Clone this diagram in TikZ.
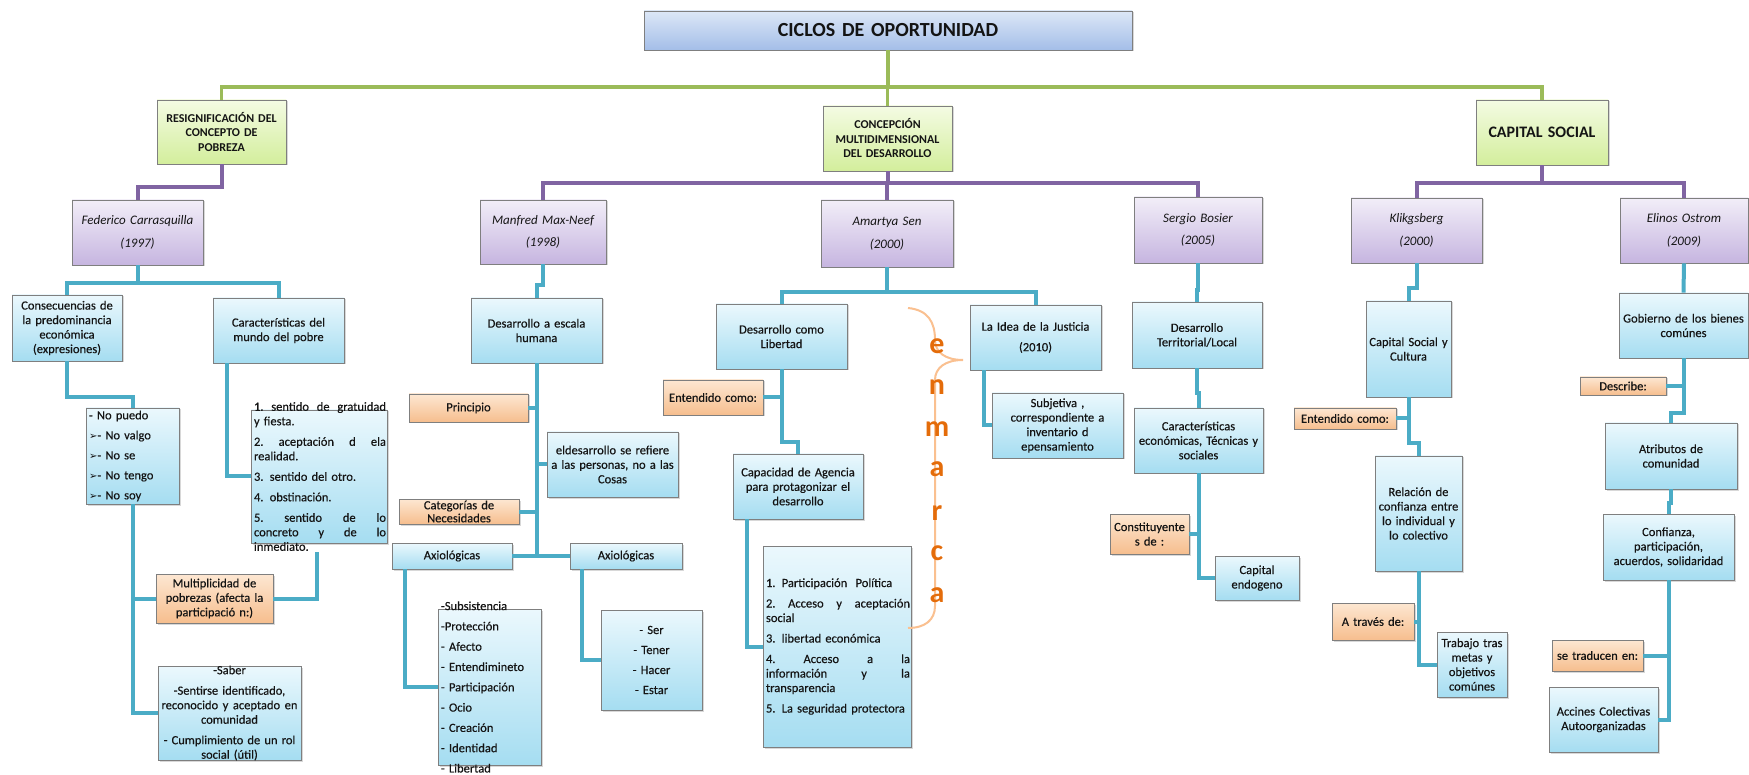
\documentclass[tikz,border=0pt]{standalone}
\usepackage{fontspec}
\setmainfont{Carlito}
\newfontfamily\bxfont{Carlito}[FakeBold=0.35]
\newfontfamily\dejavu{DejaVu Sans}
\usetikzlibrary{shadows}
\definecolor{lgreen}{HTML}{9BBB59}
\definecolor{lpurple}{HTML}{8064A2}
\definecolor{lteal}{HTML}{4BACC6}
\definecolor{ttop}{HTML}{DCE7F7}
\definecolor{tbot}{HTML}{A4BEE8}
\definecolor{gtop}{HTML}{F4FBE3}
\definecolor{gbot}{HTML}{D3EE9C}
\definecolor{ptop}{HTML}{F2EEF8}
\definecolor{pbot}{HTML}{C6B5E0}
\definecolor{ctop}{HTML}{EBF8FD}
\definecolor{cbot}{HTML}{A5DDF1}
\definecolor{otop}{HTML}{FDE7D2}
\definecolor{obot}{HTML}{F6BE8E}
\definecolor{boxborder}{HTML}{7F7F7F}
\definecolor{txtc}{HTML}{141414}
\definecolor{orange1}{HTML}{E46C0A}
\definecolor{bracec}{HTML}{FAC090}
\newcommand\bx[8]{%
  \pgfmathsetmacro\bxw{#6-#4}%
  \pgfmathsetmacro\bxh{#7-#5}%
  \pgfmathsetmacro\bxx{(#4+#6)/2}%
  \pgfmathsetmacro\bxy{(#5+#7)/2}%
  \pgfmathsetmacro\bxt{#6-#4-6}%
  \node[#2, minimum width=\bxw pt, minimum height=\bxh pt] (#1) at (\bxx,\bxy) {};
  \node[txt, text width=\bxt pt, #3] (#1t) at (#1.center) {#8};
}
\newcommand\jl[2]{\leavevmode\hbox to #1pt{#2}}
\newcommand\arr{{\fontsize{10}{10}\dejavu ➢}}
\begin{document}
\begin{tikzpicture}[x=1pt,y=-1pt,
  bxbase/.style={draw=boxborder, line width=0.7pt, inner sep=0pt,
     drop shadow={shadow xshift=1.5pt,shadow yshift=-1.5pt,opacity=0.3}},
  tbox/.style={bxbase, top color=ttop, bottom color=tbot},
  gbox/.style={bxbase, top color=gtop, bottom color=gbot},
  pbox/.style={bxbase, top color=ptop, bottom color=pbot},
  cbox/.style={bxbase, top color=ctop, bottom color=cbot},
  obox/.style={bxbase, top color=otop, bottom color=obot},
  txt/.style={inner sep=0pt, align=center, text=txtc, font=\bxfont\fontsize{12.5}{14.5}\selectfont},
  ptxt/.style={font=\fontsize{13}{14.5}\selectfont\itshape},
  gtxt/.style={font=\fontsize{12}{14.5}\selectfont\bfseries},
  gl/.style={draw=lgreen, line width=3.5pt},
  pl/.style={draw=lpurple, line width=4pt},
  tl/.style={draw=lteal, line width=4pt},
  enm/.style={text=orange1, font=\fontsize{30}{30}\selectfont\bfseries, inner sep=0pt}
]
\useasboundingbox (0,0) rectangle (1749,775);
\fill[white] (0,0) rectangle (1749,775);

% ---- boxes ----
\bx{title}{tbox}{font=\fontsize{20}{24}\selectfont\bfseries}{644}{11}{1132}{50}{CICLOS DE OPORTUNIDAD}
\bx{g1}{gbox}{gtxt}{157}{100}{286}{164}{RESIGNIFICACIÓN DEL\\CONCEPTO DE\\POBREZA}
\bx{g2}{gbox}{gtxt}{823}{106}{952}{171}{CONCEPCIÓN\\MULTIDIMENSIONAL\\DEL DESARROLLO}
\bx{g3}{gbox}{font=\fontsize{16}{19}\selectfont\bfseries}{1476}{100}{1608}{165}{CAPITAL SOCIAL}

\bx{fed}{pbox}{ptxt}{72}{200}{203}{265}{Federico Carrasquilla\\[8pt](1997)}
\bx{man}{pbox}{ptxt}{480}{200}{606}{264}{Manfred Max-Neef\\[8pt](1998)}
\bx{ama}{pbox}{ptxt}{821}{200}{953}{267}{Amartya Sen\\[8pt](2000)}
\bx{sbo}{pbox}{ptxt}{1134}{197}{1262}{263}{Sergio Bosier\\[8pt](2005)}
\bx{kli}{pbox}{ptxt}{1351}{198}{1482}{263}{Klikgsberg\\[8pt](2000)}
\bx{eli}{pbox}{ptxt}{1620}{198}{1748}{263}{Elinos Ostrom\\[8pt](2009)}

% Federico
\bx{cons}{cbox}{}{12}{295}{122}{361}{Consecuencias de\\la predominancia\\económica\\(expresiones)}
\bx{car}{cbox}{}{213}{298}{344}{363}{Características del\\mundo del pobre}
\bx{puedo}{cbox}{align=left, font=\bxfont\fontsize{12.5}{20}\selectfont}{86}{408}{179}{504}{- No puedo\\\arr- No valgo\\\arr- No se\\\arr- No tengo\\\arr- No soy}
\bx{sen}{cbox}{align=left}{251}{410}{387}{543}{\jl{132}{1.\hfill sentido\hfill de\hfill gratuidad}\\y fiesta.\\[6pt]\jl{132}{2.\hfill aceptación\hfill d\hfill ela}\\realidad.\\[6pt]3. sentido del otro.\\[6pt]4. obstinación.\\[6pt]\jl{132}{5.\hfill sentido\hfill de\hfill lo}\\\jl{132}{concreto\hfill y\hfill de\hfill lo}\\inmediato.}
\bx{mult}{obox}{}{156}{574}{273}{623}{Multiplicidad de\\pobrezas (afecta la\\participació n:)}
\bx{saber}{cbox}{}{158}{666}{301}{760}{-Saber\\[6pt]-Sentirse identificado,\\\jl{136}{reconocido\hfill y\hfill aceptado\hfill en}\\comunidad\\[6pt]- Cumplimiento de un rol\\social (útil)}

% Manfred
\bx{dah}{cbox}{}{471}{298}{602}{363}{Desarrollo a escala\\humana}
\bx{pri}{obox}{}{409}{394}{528}{422}{Principio}
\bx{eld}{cbox}{}{547}{432}{678}{497}{eldesarrollo se refiere\\a las personas, no a las\\Cosas}
\bx{cat}{obox}{font=\bxfont\fontsize{12.5}{13}\selectfont}{399}{499}{519}{524}{Categorías de\\Necesidades}
\bx{axl}{cbox}{}{392}{543}{512}{569}{Axiológicas}
\bx{axr}{cbox}{}{570}{543}{682}{569}{Axiológicas}
\bx{sub}{cbox}{align=left, font=\bxfont\fontsize{12.5}{20.3}\selectfont}{438}{609}{541}{765}{-Subsistencia\\-Protección\\- Afecto\\- Entendimineto\\- Participación\\- Ocio\\- Creación\\- Identidad\\- Libertad}
\bx{serl}{cbox}{font=\bxfont\fontsize{12.5}{20}\selectfont}{601}{610}{702}{710}{- Ser\\- Tener\\- Hacer\\- Estar}

% Amartya
\bx{dcl}{cbox}{}{716}{304}{847}{369}{Desarrollo como\\Libertad}
\bx{ent1}{obox}{}{663}{380}{763}{415}{Entendido como:}
\bx{cap}{cbox}{}{733}{454}{863}{519}{Capacidad de Agencia\\para protagonizar el\\desarrollo}
\bx{part}{cbox}{align=left}{763}{546}{911}{747}{1. Participación \ Política\\[6pt]\jl{144}{2.\hfill Acceso\hfill y\hfill aceptación}\\social\\[6pt]3. libertad económica\\[6pt]\jl{144}{4.\hfill Acceso\hfill a\hfill la}\\\jl{144}{información\hfill y\hfill la}\\transparencia\\[6pt]5. La seguridad protectora}
\bx{idea}{cbox}{}{970}{305}{1101}{370}{La Idea de la Justicia\\[6pt](2010)}
\bx{subj}{cbox}{}{992}{393}{1123}{458}{Subjetiva ,\\correspondiente a\\inventario d\\epensamiento}

% Sergio
\bx{dtl}{cbox}{}{1132}{302}{1262}{368}{Desarrollo\\Territorial/Local}
\bx{car2}{cbox}{}{1134}{408}{1263}{473}{Características\\económicas, Técnicas y\\sociales}
\bx{const}{obox}{}{1110}{514}{1189}{554}{Constituyente\\s de :}
\bx{cen}{cbox}{}{1215}{556}{1299}{600}{Capital\\endogeno}

% Kliksberg
\bx{csc}{cbox}{}{1366}{301}{1451}{397}{Capital Social y\\Cultura}
\bx{ent2}{obox}{}{1294}{408}{1396}{429}{Entendido como:}
\bx{rel}{cbox}{}{1375}{456}{1462}{571}{Relación de\\confianza entre\\lo individual y\\lo colectivo}
\bx{atr}{obox}{}{1332}{603}{1414}{640}{A través de:}
\bx{trab}{cbox}{}{1437}{632}{1507}{697}{Trabajo tras\\metas y\\objetivos\\comúnes}

% Elinor
\bx{gob}{cbox}{}{1619}{293}{1748}{358}{Gobierno de los bienes\\comúnes}
\bx{desc}{obox}{}{1580}{377}{1666}{395}{Describe:}
\bx{atr2}{cbox}{}{1605}{423}{1737}{489}{Atributos de\\comunidad}
\bx{conf}{cbox}{}{1603}{514}{1734}{580}{Confianza,\\participación,\\acuerdos, solidaridad}
\bx{trad}{obox}{}{1552}{640}{1643}{671}{se traducen en:}
\bx{acc}{cbox}{}{1549}{687}{1658}{752}{Accines Colectivas\\Autoorganizadas}

% ---- connectors ----
\draw[gl] (title.south) -- (title.south |- 0,87);
\draw[gl] (g1.north) -- (g1.north |- 0,87) -- (g3.north |- 0,87) -- (g3.north);
\draw[gl] (g2.north) -- (g2.north |- 0,87);

\draw[pl] (g1.south) -- (g1.south |- 0,187) -- (fed.north |- 0,187) -- (fed.north);
\draw[pl] (g2.south) -- (g2.south |- 0,183);
\draw[pl] (man.north) -- (man.north |- 0,183) -- (sbo.north |- 0,183) -- (sbo.north);
\draw[pl] (ama.north) -- (ama.north |- 0,183);
\draw[pl] (g3.south) -- (g3.south |- 0,183);
\draw[pl] (kli.north) -- (kli.north |- 0,183) -- (eli.north |- 0,183) -- (eli.north);

% Federico
\draw[tl] (fed.south) -- (fed.south |- 0,283);
\draw[tl] (cons.north) -- (cons.north |- 0,283) -- (car.north |- 0,283) -- (car.north);
\draw[tl] (cons.south) -- (cons.south |- 0,397) -- (puedo.north |- 0,397) -- (puedo.north);
\draw[tl] (puedo.south) |- (saber.west);
\draw[tl] (puedo.south |- mult.west) -- (mult.west);
\draw[tl] (car.south west) ++(14,0) |- (sen.west);
\coordinate (senb) at (317,552);
\draw[tl] (senb) |- (mult.east);

% Manfred
\draw[tl] (man.south) -- (man.south |- 0,285) -- (dah.north |- 0,285) -- (dah.north);
\draw[tl] (dah.south) -- (dah.south |- axl.east);
\draw[tl] (axl.east) -- (axr.west);
\draw[tl] (pri.east) -- (pri.east -| dah.south);
\draw[tl] (eld.west) -- (eld.west -| dah.south);
\draw[tl] (cat.east) -- (cat.east -| dah.south);
\draw[tl] (axl.south west) ++(13,0) |- (sub.west);
\draw[tl] (axr.south west) ++(12,0) |- (serl.west);

% Amartya
\draw[tl] (ama.south) -- (ama.south |- 0,292);
\draw[tl] (dcl.north) -- (dcl.north |- 0,292) -- (idea.north |- 0,292) -- (idea.north);
\draw[tl] (dcl.south) -- (dcl.south |- 0,442) -- (cap.north |- 0,442) -- (cap.north);
\draw[tl] (ent1.east) -- (ent1.east -| dcl.south);
\draw[tl] (cap.south west) ++(14,0) |- (part.west);
\draw[tl] (idea.south west) ++(14,0) |- (subj.west);

% Sergio
\draw[tl] (sbo.south) -- (sbo.south |- 0,290) -- (dtl.north |- 0,290) -- (dtl.north);
\draw[tl] (dtl.south) -- (dtl.south |- 0,393) -- (car2.north |- 0,393) -- (car2.north);
\draw[tl] (car2.south) |- (cen.west);
\draw[tl] (const.east) -- (const.east -| car2.south);

% Kliksberg
\draw[tl] (kli.south) -- (kli.south |- 0,288) -- (csc.north |- 0,288) -- (csc.north);
\draw[tl] (csc.south) -- (csc.south |- 0,443) -- (rel.north |- 0,443) -- (rel.north);
\draw[tl] (ent2.east) -- (ent2.east -| csc.south);
\draw[tl] (rel.south) |- (trab.west);
\draw[tl] (atr.east) -- (atr.east -| rel.south);

% Elinor
\draw[tl] (eli.south) -- (gob.north);
\draw[tl] (gob.south) -- (gob.south |- 0,413) -- (atr2.north |- 0,413) -- (atr2.north);
\draw[tl] (desc.east) -- (desc.east -| gob.south);
\draw[tl] (atr2.south) -- (atr2.south |- 0,503) -- (conf.north |- 0,503) -- (conf.north);
\draw[tl] (conf.south) |- (acc.east);
\draw[tl] (trad.east) -- (trad.east -| conf.south);

% ---- brace "enmarca" ----
\draw[draw=bracec, line width=2pt] (908,308) .. controls (928,310) and (935,322) .. (935,340)
  .. controls (935,352) and (945,360) .. (963,360)
  .. controls (945,360) and (935,368) .. (935,380) -- (935,606)
  .. controls (935,620) and (925,628) .. (908,628);
\foreach \l/\yy [count=\i] in {e/347,n/388,m/430,a/470,r/513,c/553,a/595}
  \node[enm, anchor=base] (enm\i) at (937,\yy+7) {\l};
\end{tikzpicture}
\end{document}
